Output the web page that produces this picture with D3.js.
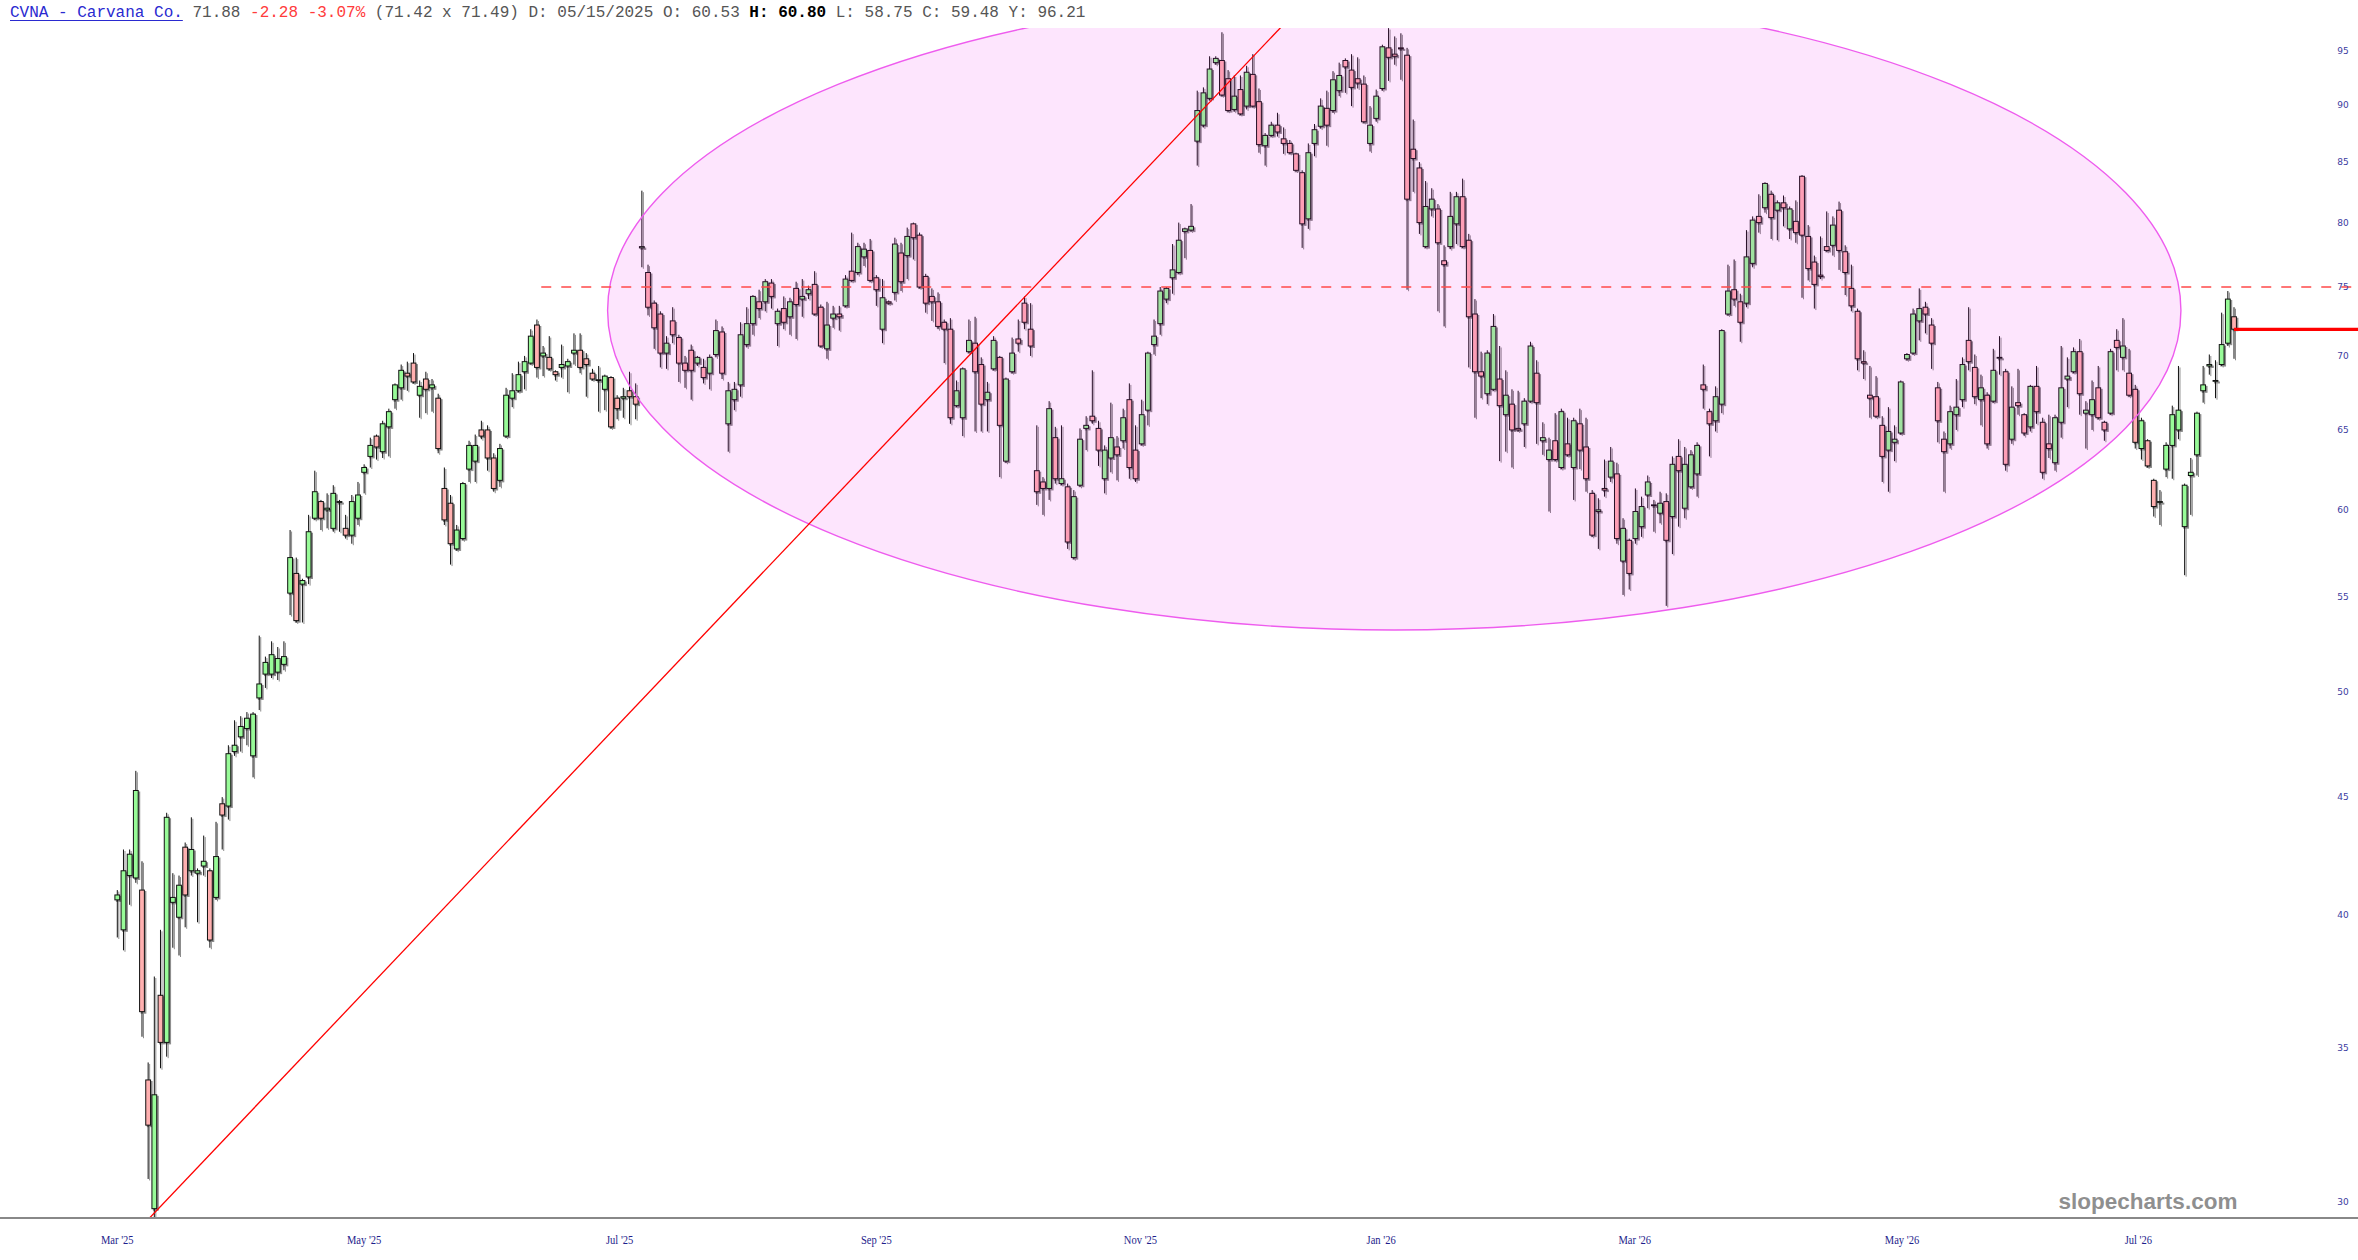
<!DOCTYPE html>
<html><head><meta charset="utf-8">
<script src="https://cdn.jsdelivr.net/npm/d3@7"></script>
<style>html,body{margin:0;padding:0;background:#fff;overflow:hidden}</style>
</head><body>
<svg id="chart" width="2358" height="1260" xmlns="http://www.w3.org/2000/svg"></svg>
<script>
// ---------------- DATA (daily candles, index 0 = first trading day of Mar '25) ----------------
const opens = [
40.6,39.4,41.6,41.5,41.0,33.9,29.8,36.9,35.2,40.5,
39.9,42.8,41.8,41.7,42.0,41.8,40.7,44.7,44.6,47.1,
47.8,48.2,46.9,49.7,50.9,50.9,51.0,51.4,55.2,56.3,
55.7,56.1,59.5,60.5,60.0,58.9,60.45,58.9,58.5,59.5,
62.3,63.3,64.6,63.6,65.2,67.0,67.8,68.8,69.5,67.3,
68.4,67.8,67.1,61.3,60.4,57.7,58.3,62.5,63.0,65.0,
65.0,63.2,61.8,64.6,67.1,67.6,68.9,69.5,72.2,70.0,
69.9,68.9,69.2,69.3,70.2,70.4,69.8,68.8,68.35,67.7,
68.5,67.1,67.1,67.6,67.2,78.0,76.1,73.8,73.0,70.2,
72.5,71.3,69.5,70.4,69.5,69.2,68.8,70.1,71.7,65.4,
67.0,68.0,70.8,72.3,73.9,73.9,75.3,72.3,73.4,72.8,
74.9,74.1,74.5,75.2,73.5,70.5,72.7,73.0,73.6,76.2,
76.1,77.3,77.8,75.7,71.9,73.9,74.6,77.6,77.4,79.9,
79.0,75.8,74.3,73.9,72.4,71.9,66.6,65.8,70.3,70.9,
69.4,67.0,69.1,69.9,63.0,68.9,71.2,73.8,71.9,62.4,
61.7,61.3,64.5,61.6,61.4,57.2,61.5,65.1,65.9,65.1,
61.9,63.2,63.9,64.3,67.0,63.7,64.1,66.3,70.8,72.3,
74.1,75.7,76.1,79.3,79.4,86.8,88.2,90.6,93.9,94.1,
92.4,89.6,91.4,89.9,92.8,90.3,86.4,87.3,88.2,87.0,
86.6,85.7,84.1,80.3,86.6,88.1,89.7,89.5,91.3,94.1,
93.2,92.4,91.9,86.6,88.8,91.5,95.3,94.7,95.3,94.6,
86.1,84.5,78.1,81.1,81.1,77.0,78.1,79.9,82.1,78.6,
73.0,68.9,67.4,67.7,68.4,66.0,66.7,65.1,65.4,66.9,
68.8,64.3,63.1,64.3,62.6,64.1,62.6,65.4,63.9,61.0,
59.9,61.3,62.0,62.2,57.0,58.2,58.3,59.0,60.9,60.3,
59.8,60.5,59.6,63.3,60.1,61.4,62.2,68.0,66.2,65.6,
66.7,73.0,74.8,73.9,73.8,76.8,80.5,81.2,82.3,81.0,
81.6,79.5,80.1,83.8,78.9,76.9,75.9,78.1,78.2,81.0,
77.7,74.9,73.2,69.6,67.3,67.2,65.3,63.7,64.2,64.8,
69.8,70.2,72.5,73.5,72.2,67.8,64.4,64.1,66.0,67.0,
71.1,69.2,67.0,67.3,66.9,69.9,68.9,64.4,66.8,66.0,
65.2,67.9,65.5,64.1,62.9,65.5,68.4,68.9,70.3,66.1,
66.0,67.8,65.5,66.1,71.1,69.9,68.8,67.7,63.8,64.3,
61.8,60.5,62.5,64.0,65.0,59.0,62.1,63.4,67.6,69.3,
68.3,69.4,70.9,72.8];
const highs = [
41.0,42.7,42.7,46.2,42.2,34.5,37.6,39.4,44.3,41.7,
41.6,43.0,44.1,41.9,43.3,41.9,43.9,45.0,47.4,48.6,
48.8,49.0,49.0,52.9,51.8,52.6,52.3,52.6,58.8,57.2,
56.0,59.7,62.4,60.6,61.0,61.5,60.6,59.7,60.9,61.7,
62.8,64.5,64.7,65.6,66.4,68.1,69.4,69.6,70.2,68.3,
68.9,68.4,67.4,62.6,60.9,59.1,61.7,64.3,64.7,65.6,
65.3,63.5,64.1,67.8,68.8,69.6,70.0,71.9,72.6,70.7,
71.4,69.0,70.8,69.8,71.6,71.6,70.2,69.1,69.3,68.7,
68.6,67.3,67.8,68.9,68.1,82.6,76.7,74.0,73.2,71.4,
73.5,71.5,70.0,70.8,70.0,69.8,70.1,72.6,72.1,68.2,
68.2,72.4,73.5,74.4,74.8,75.6,75.6,73.4,74.3,74.2,
75.4,75.6,75.1,76.2,73.7,73.9,73.6,73.6,75.9,79.2,
78.4,78.4,78.7,75.9,75.6,74.0,78.8,78.4,79.6,80.0,
79.2,76.0,74.9,74.6,72.6,72.7,68.3,69.2,72.6,72.8,
69.9,68.2,71.4,70.0,68.5,71.3,72.6,74.3,73.8,65.3,
62.0,66.9,65.2,65.3,61.6,61.2,65.1,65.9,69.0,65.6,
64.0,66.8,64.6,66.4,68.1,65.3,67.0,70.3,72.6,75.0,
75.0,78.3,80.0,79.6,81.5,91.3,91.6,94.5,94.5,96.8,
93.2,92.7,92.7,93.6,94.7,91.5,87.5,88.5,89.3,88.0,
86.9,85.8,84.3,86.6,88.3,90.6,91.3,93.1,93.9,94.3,
94.7,94.4,92.7,89.9,91.4,95.6,97.2,96.4,96.7,95.3,
88.7,85.0,83.4,82.8,81.5,78.2,82.5,82.5,83.6,79.1,
74.1,70.3,70.4,73.0,70.7,69.0,67.7,67.6,67.1,71.0,
69.7,65.5,64.5,66.1,66.4,65.8,65.8,66.4,65.8,61.2,
60.7,63.1,63.9,62.9,59.5,58.3,61.3,60.8,62.1,60.6,
61.1,61.0,63.3,64.4,63.9,63.7,64.2,69.4,66.4,67.9,
71.9,76.7,77.1,74.5,79.4,80.5,82.3,83.3,82.6,81.8,
82.2,81.3,81.8,83.9,79.8,77.4,78.9,80.9,80.5,81.7,
78.2,76.7,73.4,70.4,69.3,68.6,65.9,66.5,65.3,68.3,
70.2,73.4,74.9,73.9,72.7,68.2,64.9,66.6,68.4,69.9,
73.5,70.1,68.7,67.5,70.5,71.4,69.1,67.9,69.1,66.1,
68.0,69.3,65.8,66.0,66.0,70.7,69.9,70.6,71.2,66.9,
68.3,69.3,65.6,70.5,71.9,72.7,70.5,68.0,65.8,64.4,
61.9,61.2,64.2,66.6,69.3,61.6,63.2,66.2,69.3,70.1,
69.7,73.1,74.7,73.5];
const lows = [
39.1,38.6,40.4,41.3,35.4,30.7,29.5,34.3,34.7,38.7,
38.4,39.5,41.6,39.7,41.6,38.7,40.6,42.7,44.0,46.9,
47.1,47.4,45.9,49.1,50.2,50.7,50.6,51.1,54.0,53.6,
53.6,55.7,59.4,58.8,58.9,58.7,58.7,58.3,58.0,59.1,
61.0,62.6,63.1,63.2,63.3,66.4,67.0,67.6,68.1,65.8,
66.1,66.2,63.5,59.1,56.8,57.6,58.2,61.7,61.7,64.4,
62.4,61.1,61.4,64.5,66.5,67.5,67.7,69.4,68.5,68.6,
69.0,68.3,68.5,67.5,69.4,68.8,67.2,68.3,66.2,66.3,
65.1,65.7,65.8,65.4,65.7,76.5,72.9,70.5,69.2,69.1,
70.9,68.2,67.8,67.0,69.3,68.1,67.7,69.9,68.4,63.6,
66.3,67.2,70.6,71.5,72.7,73.2,73.4,70.7,71.9,71.5,
71.2,72.8,74.1,72.9,70.6,69.8,72.0,71.8,73.5,75.4,
75.9,76.6,75.4,73.6,70.9,73.7,74.0,74.7,75.6,77.1,
74.9,73.1,72.5,71.9,69.5,65.4,66.5,64.6,70.2,64.9,
64.9,64.9,69.0,62.0,62.9,68.8,70.3,71.9,70.0,60.3,
59.7,60.6,61.6,61.5,57.7,57.1,61.4,63.7,65.4,62.7,
61.0,62.3,61.8,63.8,61.9,61.7,64.0,65.3,70.1,71.5,
73.8,74.5,76.0,77.2,79.3,84.7,88.0,90.4,93.7,90.8,
89.4,89.4,89.1,89.6,89.8,85.8,84.7,87.2,87.2,85.7,
85.7,84.2,78.0,79.5,85.5,87.9,86.4,89.3,90.8,91.1,
89.9,91.5,88.4,85.9,88.5,91.3,92.2,93.7,92.3,74.8,
82.5,79.1,78.0,80.5,73.2,72.1,77.9,78.3,78.0,69.2,
65.8,67.1,66.7,67.6,63.0,63.6,62.6,64.9,63.9,66.8,
64.1,63.4,59.9,63.0,62.5,63.3,60.6,62.5,61.1,58.4,
57.7,60.8,61.7,58.0,55.1,55.4,58.0,58.4,60.1,58.7,
59.2,54.5,57.4,59.0,59.5,61.3,60.8,66.4,63.3,64.9,
66.1,72.9,73.6,71.0,73.5,76.5,79.2,80.8,78.7,78.6,
79.7,78.7,78.4,74.2,75.5,73.4,75.6,77.7,77.4,76.3,
74.4,73.2,69.0,68.4,65.8,65.8,61.7,61.1,63.0,64.7,
69.7,70.1,71.1,71.6,69.1,64.2,61.1,63.8,65.0,66.5,
69.0,66.7,65.3,63.8,66.8,68.7,62.4,64.1,66.0,64.6,
64.9,65.4,61.9,63.2,62.4,64.5,66.5,68.8,66.0,63.8,
65.0,65.7,64.3,66.0,69.0,69.0,67.2,63.8,63.1,62.6,
59.6,59.1,62.0,61.9,64.4,56.2,59.7,62.1,66.8,68.7,
67.1,69.3,70.7,69.8];
const closes = [
40.8,41.8,42.5,45.3,36.3,32.4,33.4,35.2,44.1,40.7,
41.2,40.8,42.7,41.8,42.2,39.0,42.4,44.2,47.0,47.4,
48.3,48.7,48.9,50.4,51.5,51.9,51.7,51.8,57.2,53.7,
55.9,58.7,61.1,59.5,60.1,61.0,60.5,58.5,60.5,60.9,
62.6,64.0,63.9,65.4,66.2,68.0,69.0,68.6,68.2,67.9,
67.7,68.0,63.8,59.4,58.0,58.8,61.6,64.0,64.0,64.6,
63.2,61.3,63.8,67.3,67.6,68.7,69.6,71.4,69.2,70.2,
69.1,68.7,69.4,69.6,70.4,69.2,69.4,68.4,68.3,68.6,
65.2,66.4,67.2,67.2,66.7,78.1,73.5,72.0,70.2,70.9,
71.5,69.5,69.0,69.0,69.9,68.5,69.9,71.8,68.8,67.6,
67.7,71.5,72.3,74.3,73.4,75.4,74.3,73.2,72.4,73.9,
73.7,74.3,74.8,73.0,70.7,72.2,73.0,72.8,75.6,75.5,
78.1,77.9,75.5,74.8,74.2,73.8,78.3,75.4,78.9,78.8,
75.0,73.8,73.9,72.1,71.9,65.8,67.6,69.1,71.1,68.9,
66.7,67.5,71.1,65.3,68.4,70.2,70.9,72.4,70.7,61.1,
61.3,66.4,61.9,61.9,58.1,60.8,64.4,65.3,65.6,63.7,
63.7,64.5,63.4,65.8,62.6,61.9,66.0,70.2,71.4,74.7,
74.9,76.3,78.6,79.5,79.7,89.5,91.1,93.3,94.3,90.9,
89.5,90.8,89.2,93.0,89.9,86.5,87.3,88.2,87.6,86.6,
85.8,84.3,79.9,85.8,87.8,89.9,88.2,92.3,92.7,93.5,
91.6,92.0,88.5,88.2,90.8,95.4,94.4,94.5,95.2,81.9,
85.3,80.0,81.3,81.9,78.4,76.7,80.5,82.1,78.1,72.8,
68.9,68.6,70.2,72.1,66.6,67.3,65.0,65.0,66.9,70.7,
66.8,64.5,63.7,63.1,66.2,63.4,65.6,63.7,61.9,58.5,
60.0,61.2,63.0,58.3,58.9,56.3,59.9,60.2,61.7,60.3,
60.4,58.2,62.8,62.4,62.8,63.4,64.0,67.7,65.4,67.2,
71.8,74.7,74.1,72.4,77.3,80.2,80.0,83.2,80.4,81.6,
81.2,81.1,79.2,79.0,76.4,75.2,75.8,77.8,79.8,77.8,
76.1,73.6,69.8,69.5,67.1,65.9,63.3,64.9,64.4,68.2,
70.1,73.0,73.4,73.0,70.9,65.6,63.6,66.2,66.5,69.4,
69.6,67.2,67.8,64.1,69.0,69.9,62.8,66.5,66.6,64.8,
67.9,66.2,62.3,63.8,65.8,67.8,68.6,70.3,67.4,66.3,
67.0,65.8,65.0,70.3,70.6,70.7,67.3,64.2,65.6,62.7,
60.2,60.5,64.0,66.0,66.3,61.5,62.3,66.1,68.0,69.4,
68.3,70.8,74.1,71.9];

const xTickLabels = ["Mar '25","May '25","Jul '25","Sep '25","Nov '25","Jan '26","Mar '26","May '26","Jul '26"];
const xTickIndex  = [0, 40, 81.4, 123, 165.8, 204.8, 245.9, 289.2, 327.5];
const yTickValues = [30,35,40,45,50,55,60,65,70,75,80,85,90,95];

const lastPrice = 71.88;
const resistanceLevel = 75;
const resistanceStartIndex = 68.7;
const trendPoints = [{i:5, p:29.48}, {i:200, p:104.8}];
const ellipseBox = {i0:79.45, i1:334.4, pTop:100.9, pBottom:53.2};

const headerParts = [
  {t:"CVNA - Carvana Co.", c:"#2a2ad0", u:true},
  {t:" 71.88 ", c:"#555555"},
  {t:"-2.28 -3.07%", c:"#ff3b3b"},
  {t:" (71.42 x 71.49) D: 05/15/2025 O: 60.53 ", c:"#555555"},
  {t:"H: 60.80", c:"#000000", b:true},
  {t:" L: 58.75 C: 59.48 Y: 96.21", c:"#555555"}
];
const watermark = "slopecharts.com";

// ---------------- DRAW ----------------
const W = 2358, H = 1260;
const plotTop = 28, plotBottom = 1218;
const svg = d3.select('#chart');
svg.append('rect').attr('width',W).attr('height',H).attr('fill','#ffffff');

const x = d3.scaleLinear().domain([0, closes.length-1]).range([117.3, 2234]);
const y = d3.scaleLog().domain([30, 95]).range([1202, 51]);

const candles = closes.map((c,i)=>({i, o:opens[i], h:highs[i], l:lows[i], c}));

svg.append('defs').append('clipPath').attr('id','plotClip')
  .append('rect').attr('x',0).attr('y',plotTop).attr('width',W).attr('height',plotBottom-plotTop);

const plot = svg.append('g').attr('clip-path','url(#plotClip)');
const bw = 4.8;

// drop shadow
const sh = plot.append('g').attr('transform','translate(1.5,1.5)');
sh.selectAll('line').data(candles).join('line')
  .attr('x1',d=>x(d.i)).attr('x2',d=>x(d.i))
  .attr('y1',d=>y(d.h)).attr('y2',d=>y(d.l))
  .attr('stroke','#8c8c8c').attr('stroke-width',1);
sh.selectAll('rect').data(candles).join('rect')
  .attr('x',d=>x(d.i)-bw/2)
  .attr('y',d=>y(Math.max(d.o,d.c)))
  .attr('width',bw)
  .attr('height',d=>Math.max(1, Math.abs(y(d.o)-y(d.c))))
  .attr('fill','#8c8c8c').attr('stroke','#8c8c8c').attr('stroke-width',1);

// wicks
plot.append('g').selectAll('line').data(candles).join('line')
  .attr('x1',d=>x(d.i)).attr('x2',d=>x(d.i))
  .attr('y1',d=>y(d.h)).attr('y2',d=>y(d.l))
  .attr('stroke','#111').attr('stroke-width',1);

// bodies
plot.append('g').selectAll('rect').data(candles).join('rect')
  .attr('x',d=>x(d.i)-bw/2)
  .attr('y',d=>y(Math.max(d.o,d.c)))
  .attr('width',bw)
  .attr('height',d=>Math.max(0.8, Math.abs(y(d.o)-y(d.c))))
  .attr('fill',d=>d.c>=d.o ? '#98fb98' : '#ffb0b0')
  .attr('stroke','#111').attr('stroke-width',1);

// ellipse annotation
const ex0 = x(ellipseBox.i0), ex1 = x(ellipseBox.i1);
const ey0 = y(ellipseBox.pTop), ey1 = y(ellipseBox.pBottom);
plot.append('ellipse')
  .attr('cx',(ex0+ex1)/2).attr('cy',(ey0+ey1)/2)
  .attr('rx',(ex1-ex0)/2).attr('ry',(ey1-ey0)/2)
  .attr('fill','rgba(238,0,238,0.1)')
  .attr('stroke','#ee5cee').attr('stroke-width',1.4);

// resistance dashed line
plot.append('line')
  .attr('x1',x(resistanceStartIndex)).attr('x2',W)
  .attr('y1',y(resistanceLevel)).attr('y2',y(resistanceLevel))
  .attr('stroke','#ff4a4a').attr('stroke-width',1.4)
  .attr('stroke-dasharray','10,10');

// trend line
plot.append('line')
  .attr('x1',x(trendPoints[0].i)).attr('y1',y(trendPoints[0].p))
  .attr('x2',x(trendPoints[1].i)).attr('y2',y(trendPoints[1].p))
  .attr('stroke','#ff0000').attr('stroke-width',1.3);

// last price line
plot.append('line')
  .attr('x1',x(closes.length-1)).attr('x2',W)
  .attr('y1',y(lastPrice)).attr('y2',y(lastPrice))
  .attr('stroke','#ff0000').attr('stroke-width',3.2);

// bottom axis line
svg.append('line').attr('x1',0).attr('x2',W).attr('y1',plotBottom).attr('y2',plotBottom)
  .attr('stroke','#888888').attr('stroke-width',2);

// x labels
svg.append('g').selectAll('text').data(xTickIndex).join('text')
  .attr('transform',d=>`translate(${x(d)},1244) scale(0.88,1)`)
  .attr('text-anchor','middle')
  .style('font-family','"Liberation Serif", serif')
  .style('font-size','12px')
  .attr('fill','#1e1e8c')
  .text((d,i)=>xTickLabels[i]);

// y labels
svg.append('g').selectAll('text').data(yTickValues).join('text')
  .attr('x',2343).attr('y',d=>y(d))
  .attr('dy','0.35em')
  .attr('text-anchor','middle')
  .style('font-family','"DejaVu Sans", sans-serif')
  .style('font-size','9px')
  .attr('fill','#3c3ca0')
  .text(d=>d);

// watermark
svg.append('text').attr('x',2148).attr('y',1209).attr('text-anchor','middle')
  .style('font-family','"Liberation Sans", Arial, sans-serif')
  .style('font-weight','bold').style('font-size','22.5px')
  .attr('fill','#8f8f8f').text(watermark);

// header
const header = svg.append('text').attr('x',10).attr('y',17)
  .style('font-family','"Liberation Mono", monospace')
  .style('font-size','16px').style('white-space','pre');
const spans = headerParts.map(p=>{
  const s = header.append('tspan').attr('fill',p.c).text(p.t);
  if (p.b) s.style('font-weight','bold');
  return s;
});
const firstLen = spans[0].node().getComputedTextLength();
svg.append('line').attr('x1',10).attr('x2',10+firstLen).attr('y1',20.5).attr('y2',20.5)
  .attr('stroke','#2a2ad0').attr('stroke-width',1.2);
</script>
</body></html>
